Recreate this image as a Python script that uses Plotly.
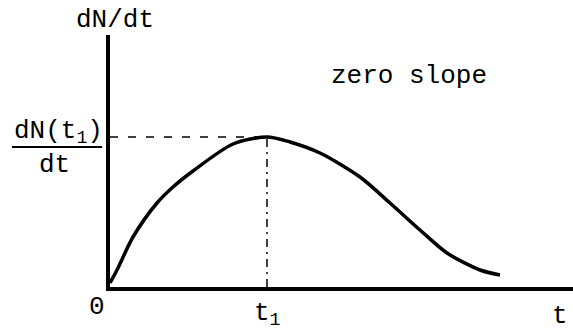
import plotly.graph_objects as go

# curve values (arbitrary units)
t_vals = [0, 7, 23, 47, 63, 83, 123, 157, 180, 210, 250, 280, 310, 337, 370, 390]
rate_vals = [4, 17, 50, 84, 100, 116, 143, 150, 145, 134, 110, 84, 57, 34, 17, 12]
t1 = 157
rate_t1 = 150

FONT = "Liberation Mono, Courier New, monospace"

fig = go.Figure()
fig.add_trace(go.Scatter(x=t_vals, y=rate_vals, mode="lines",
                         line=dict(color="black", width=3.5, shape="spline", smoothing=0.8),
                         hoverinfo="skip", cliponaxis=False))
# dashed horizontal to peak
fig.add_trace(go.Scatter(x=[0, t1], y=[rate_t1, rate_t1], mode="lines",
                         line=dict(color="black", width=1.5, dash="8px,10px"), hoverinfo="skip"))
# dash-dot vertical from peak
fig.add_trace(go.Scatter(x=[t1, t1], y=[0, rate_t1], mode="lines",
                         line=dict(color="black", width=1.5, dash="8px,5px,2px,5px"), hoverinfo="skip"))

ann = dict(showarrow=False, font=dict(family=FONT, size=26, color="black"),
           xanchor="center", yanchor="middle")
fig.add_annotation(x=0.011, y=1.06, xref="paper", yref="paper", text="dN/dt", **ann)
fig.add_annotation(x=299, y=211, xref="x", yref="y", text="zero slope", **ann)
fig.add_annotation(x=-0.028, y=-0.079, xref="paper", yref="paper", text="0", **ann)
fig.add_annotation(x=t1, y=-0.107, xref="x", yref="paper", text="t<sub>1</sub>", **ann)
fig.add_annotation(x=0.972, y=-0.115, xref="paper", yref="paper", text="t", **ann)
ann_l = dict(ann, xanchor="left", yanchor="bottom")
fig.add_annotation(x=-0.2117, y=0.545, xref="paper", yref="paper",
                   text="dN(t<sub>1</sub>)", **ann_l)
ann_t = dict(ann, yanchor="top")
fig.add_annotation(x=-0.119, y=0.552, xref="paper", yref="paper", text="dt", **ann_t)
# fraction bar of the label
fig.add_shape(type="line", xref="paper", yref="paper", x0=-0.2117, x1=-0.017, y0=0.556, y1=0.556,
              line=dict(color="black", width=2))

fig.update_layout(
    width=573, height=333,
    margin=dict(l=110, r=0, t=35, b=46),
    paper_bgcolor="white", plot_bgcolor="white",
    showlegend=False,
    xaxis=dict(range=[0, 463], showgrid=False, zeroline=False, showticklabels=False,
               ticks="", showline=True, linecolor="black", linewidth=4),
    yaxis=dict(range=[0, 252], showgrid=False, zeroline=False, showticklabels=False,
               ticks="", showline=True, linecolor="black", linewidth=4),
)
fig.write_html("out.html", config={"displayModeBar": False},
               post_script="document.body.style.margin='0';document.body.style.overflow='hidden';")
